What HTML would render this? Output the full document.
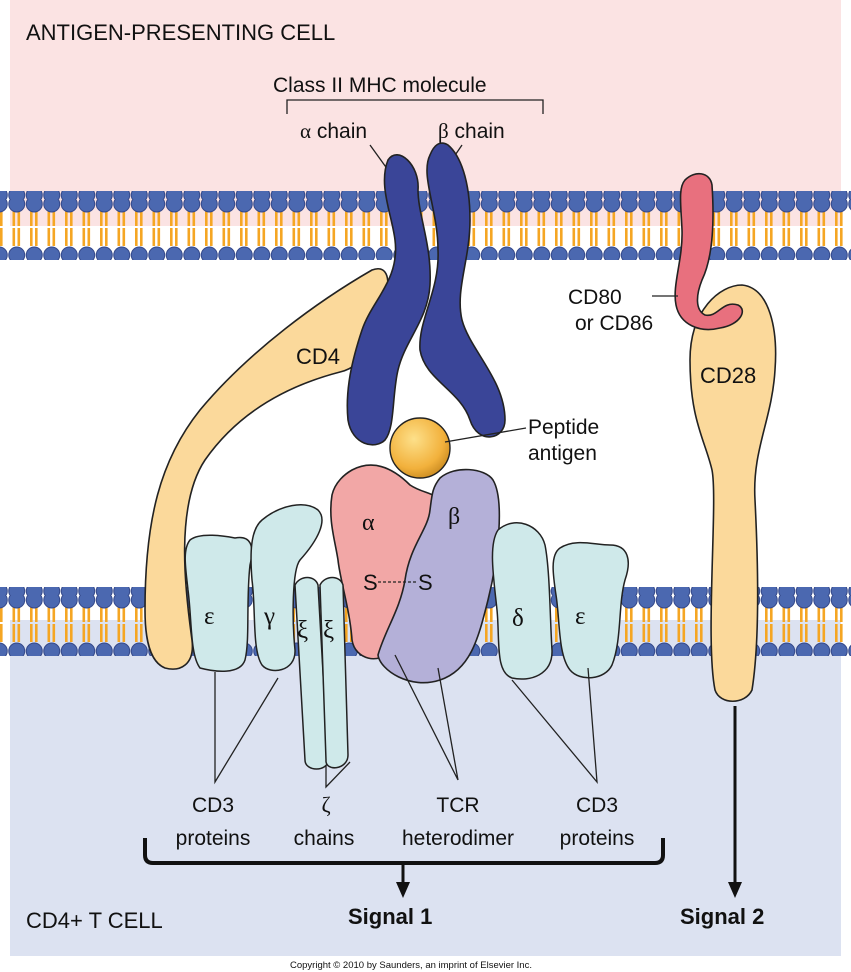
<!DOCTYPE html>
<html><head><meta charset="utf-8"><style>
html,body{margin:0;padding:0;background:#fff;}
svg{display:block;}
text{font-family:"Liberation Sans",sans-serif;fill:#111;}
.g{font-family:"Liberation Serif",serif;}
</style></head><body>
<svg width="851" height="972" viewBox="0 0 851 972" xmlns="http://www.w3.org/2000/svg">
<defs>
<pattern id="mem" x="8" y="0" width="17.5" height="60" patternUnits="userSpaceOnUse">
<rect x="4.5" y="8" width="2.6" height="18" fill="#f5a623"/>
<rect x="9.5" y="8" width="2.6" height="18" fill="#f5a623"/>
<rect x="4.5" y="28" width="2.6" height="18" fill="#f5a623"/>
<rect x="9.5" y="28" width="2.6" height="18" fill="#f5a623"/>
<circle cx="8.75" cy="4" r="8" fill="#4b68b0" stroke="#34488a" stroke-width="1"/>
<circle cx="8.75" cy="55" r="8" fill="#4b68b0" stroke="#34488a" stroke-width="1"/>
</pattern>
</defs>
<rect x="10" y="0" width="831" height="226" fill="#fbe3e3"/>
<rect x="10" y="620" width="831" height="336" fill="#dce2f1"/>
<g transform="translate(0,200)"><rect x="0" y="-9" width="851" height="69" fill="url(#mem)"/></g>
<g transform="translate(0,596)"><rect x="0" y="-9" width="851" height="69" fill="url(#mem)"/></g>

<text x="26" y="40" font-size="22">ANTIGEN-PRESENTING CELL</text>
<text x="273" y="92" font-size="21">Class II MHC molecule</text>
<path d="M287 114 V100 H543 V114" fill="none" stroke="#222" stroke-width="1.3"/>
<text x="300" y="138" font-size="21"><tspan class="g">α</tspan> chain</text>
<text x="438" y="138" font-size="21"><tspan class="g">β</tspan> chain</text>
<line x1="370" y1="145" x2="388" y2="170" stroke="#222" stroke-width="1.3"/>
<line x1="462" y1="145" x2="445" y2="170" stroke="#222" stroke-width="1.3"/>

<!-- CD4 -->
<path d="M372 270 C385 265 392 275 385 300 C378 330 370 365 340 372 C290 385 240 410 205 460 C175 505 185 590 192 640 C195 665 180 672 165 668 C150 662 145 640 145 610 C145 520 160 460 200 410 C250 350 320 300 372 270 Z" fill="#fbd99b" stroke="#222" stroke-width="1.6"/>
<text x="296" y="364" font-size="22">CD4</text>

<!-- MHC chains -->
<path d="M388 160 C378 185 392 215 395 240 C400 280 372 300 362 330 C352 360 345 390 348 420 C352 445 375 450 385 440 C395 428 392 395 398 370 C405 340 428 320 430 285 C432 245 418 215 418 190 C420 165 398 145 388 160 Z" fill="#3a4598" stroke="#222" stroke-width="1.6"/>
<path d="M430 155 C420 175 438 210 438 250 C440 290 418 320 420 350 C425 380 460 390 470 420 C478 445 505 440 505 420 C505 380 470 350 462 320 C455 290 470 260 470 220 C470 180 460 155 448 145 C440 140 434 145 430 155 Z" fill="#3a4598" stroke="#222" stroke-width="1.6"/>

<!-- peptide -->
<defs><radialGradient id="pg" cx="0.4" cy="0.35" r="0.7"><stop offset="0" stop-color="#fde08a"/><stop offset="0.7" stop-color="#f2b13c"/><stop offset="1" stop-color="#c98a20"/></radialGradient></defs>
<circle cx="420" cy="448" r="30" fill="url(#pg)" stroke="#222" stroke-width="1.4"/>
<line x1="445" y1="442" x2="526" y2="428" stroke="#222" stroke-width="1.3"/>
<text x="528" y="434" font-size="21">Peptide</text>
<text x="528" y="460" font-size="21">antigen</text>

<!-- CD80/CD28 -->
<path d="M715 690 C705 640 718 500 712 470 C705 440 690 420 690 360 C690 310 720 285 742 285 C770 288 778 330 775 370 C772 420 752 450 755 500 C758 560 760 640 752 690 C745 705 720 705 715 690 Z" fill="#fbd99b" stroke="#222" stroke-width="1.6"/>
<path d="M685 180 C695 170 710 172 712 185 C714 215 714 255 702 280 C696 295 695 310 705 315 C718 318 722 300 738 305 C748 310 740 325 720 328 C700 333 680 325 676 305 C672 285 683 260 682 230 C681 205 678 188 685 180 Z" fill="#e8707e" stroke="#222" stroke-width="1.6"/>
<line x1="652" y1="296" x2="678" y2="296" stroke="#222" stroke-width="1.3"/>
<text x="568" y="304" font-size="21">CD80</text>
<text x="575" y="330" font-size="21">or CD86</text>
<text x="700" y="383" font-size="22">CD28</text>

<!-- TCR -->
<path d="M352 470 C375 458 395 470 410 485 C425 495 440 492 438 505 C430 525 435 560 420 585 C400 615 395 640 390 650 C380 665 355 660 352 640 C350 610 340 580 338 560 C335 540 328 520 332 495 C335 482 345 474 352 470 Z" fill="#f2a7a6" stroke="#222" stroke-width="1.6"/>
<path d="M440 478 C455 465 485 468 493 480 C505 500 498 560 488 600 C478 640 470 670 440 680 C410 690 380 670 378 655 C385 630 400 610 405 580 C410 545 428 530 430 510 C432 495 432 488 440 478 Z" fill="#b4b0d8" stroke="#222" stroke-width="1.6"/>
<text x="362" y="530" font-size="24" class="g">α</text>
<text x="448" y="524" font-size="24" class="g">β</text>
<text x="363" y="590" font-size="22">S</text><text x="418" y="590" font-size="22">S</text>
<line x1="378" y1="582" x2="418" y2="582" stroke="#222" stroke-width="1.2" stroke-dasharray="3,2"/>

<!-- CD3 left -->
<path d="M190 540 C200 532 225 536 235 538 C250 535 255 545 250 565 C246 600 250 640 245 660 C240 675 215 672 200 668 C190 655 192 620 188 590 C186 570 182 550 190 540 Z" fill="#cfe9ea" stroke="#222" stroke-width="1.5"/>
<path d="M262 520 C280 505 305 500 318 510 C328 520 318 540 300 560 C292 570 292 620 295 650 C296 672 270 675 262 665 C252 650 256 610 252 580 C250 555 250 530 262 520 Z" fill="#cfe9ea" stroke="#222" stroke-width="1.5"/>
<path d="M295 585 C300 575 315 575 318 585 L328 760 C328 772 305 772 305 760 Z" fill="#cfe9ea" stroke="#222" stroke-width="1.5"/>
<path d="M320 585 C325 575 340 575 343 585 L348 755 C348 770 325 772 326 760 Z" fill="#cfe9ea" stroke="#222" stroke-width="1.5"/>
<text x="204" y="624" font-size="25" class="g">ε</text>
<text x="264" y="624" font-size="25" class="g">γ</text>
<text x="297" y="638" font-size="25" class="g">ξ</text>
<text x="323" y="638" font-size="25" class="g">ξ</text>

<!-- CD3 right -->
<path d="M498 530 C515 515 540 525 545 545 C550 570 550 620 552 650 C553 675 530 682 512 678 C495 672 500 640 497 610 C494 580 488 545 498 530 Z" fill="#cfe9ea" stroke="#222" stroke-width="1.5"/>
<path d="M560 548 C575 538 595 545 610 545 C628 545 632 560 625 580 C618 605 622 640 612 665 C605 680 580 682 570 670 C558 655 560 620 556 595 C553 575 550 555 560 548 Z" fill="#cfe9ea" stroke="#222" stroke-width="1.5"/>
<text x="512" y="626" font-size="25" class="g">δ</text>
<text x="575" y="624" font-size="25" class="g">ε</text>

<!-- pointer lines -->
<g stroke="#222" stroke-width="1.3" fill="none">
<path d="M215 672 V782 L278 678"/>
<path d="M326 765 V787 L350 762"/>
<path d="M395 655 L458 780 L438 668"/>
<path d="M512 680 L597 782 L588 668"/>
</g>
<text x="213" y="812" font-size="21" text-anchor="middle">CD3</text>
<text x="213" y="845" font-size="21" text-anchor="middle">proteins</text>
<text x="326" y="812" font-size="22" text-anchor="middle" class="g">ζ</text>
<text x="324" y="845" font-size="21" text-anchor="middle">chains</text>
<text x="458" y="812" font-size="21" text-anchor="middle">TCR</text>
<text x="458" y="845" font-size="21" text-anchor="middle">heterodimer</text>
<text x="597" y="812" font-size="21" text-anchor="middle">CD3</text>
<text x="597" y="845" font-size="21" text-anchor="middle">proteins</text>

<path d="M145 838 V855 Q145 863 153 863 H655 Q663 863 663 855 V838" fill="none" stroke="#111" stroke-width="4"/>
<line x1="403" y1="863" x2="403" y2="885" stroke="#111" stroke-width="3"/>
<path d="M396 882 L410 882 L403 898 Z" fill="#111"/>
<line x1="735" y1="706" x2="735" y2="885" stroke="#111" stroke-width="3"/>
<path d="M728 882 L742 882 L735 898 Z" fill="#111"/>

<text x="26" y="928" font-size="22">CD4+ T CELL</text>
<text x="348" y="924" font-size="22" font-weight="bold">Signal 1</text>
<text x="680" y="924" font-size="22" font-weight="bold">Signal 2</text>
<text x="290" y="968" font-size="9.5">Copyright © 2010 by Saunders, an imprint of Elsevier Inc.</text>
</svg>
</body></html>
